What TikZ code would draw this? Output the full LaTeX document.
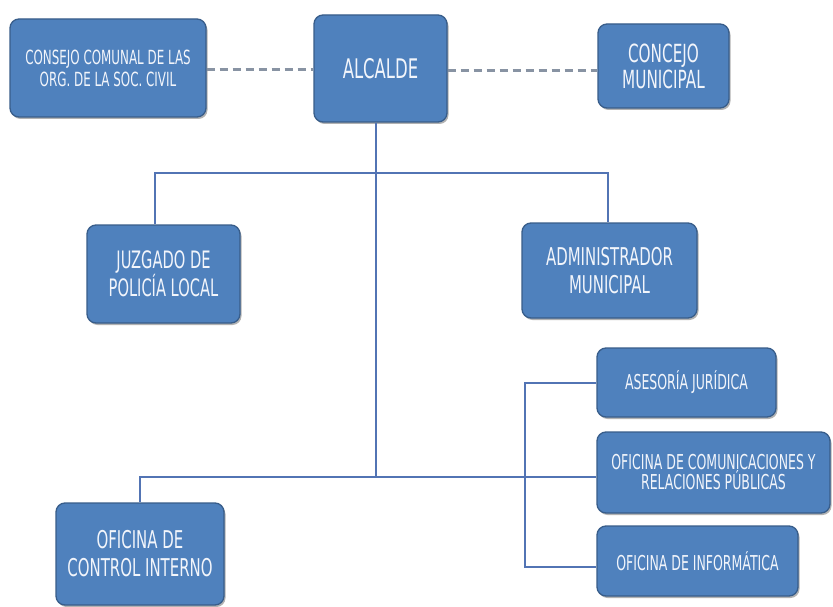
\documentclass[tikz,border=0pt]{standalone}
\usepackage{fontspec}
\setmainfont{DejaVu Sans}[FakeStretch=0.61]
\usetikzlibrary{shadows}
\definecolor{boxfill}{HTML}{4F81BD}
\definecolor{boxline}{HTML}{385D8A}
\definecolor{conn}{HTML}{5274B4}
\definecolor{dashc}{HTML}{8893A3}
\definecolor{txt}{HTML}{F2F5FB}
\begin{document}
\begin{tikzpicture}[x=1pt,y=-1pt,
  box/.style={draw=boxline,line width=1.3pt,fill=boxfill,rounded corners=9pt,
    text=txt,align=center,inner sep=0pt,
    drop shadow={shadow xshift=1.5pt,shadow yshift=-2pt,opacity=0.3,fill=black}},
  connline/.style={draw=conn,line width=1.6pt},
  dashline/.style={draw=dashc,line width=3pt,dash pattern=on 8pt off 5pt}]
\useasboundingbox[fill=white] (0,0) rectangle (833,607);

\node[box,minimum width=196pt,minimum height=98pt,font=\fontsize{19.5}{22}\selectfont] (consejo) at (108,68) {CONSEJO COMUNAL DE LAS\\ORG. DE LA SOC. CIVIL};
\node[box,minimum width=133pt,minimum height=107pt,font=\fontsize{27}{28}\selectfont] (alcalde) at (380.5,68.5) {ALCALDE};
\node[box,minimum width=131pt,minimum height=84pt,font=\fontsize{25}{26}\selectfont] (concejo) at (663.5,66) {CONCEJO\\MUNICIPAL};
\node[box,minimum width=153pt,minimum height=98pt,font=\fontsize{24}{28}\selectfont] (juzgado) at (163.5,274) {JUZGADO DE\\POLICÍA LOCAL};
\node[box,minimum width=175pt,minimum height=95pt,font=\fontsize{24.5}{28.5}\selectfont] (admin) at (609.5,270.5) {ADMINISTRADOR\\MUNICIPAL};
\node[box,minimum width=179pt,minimum height=69pt,font=\fontsize{20.5}{22}\selectfont] (asesoria) at (686.5,382.5) {ASESORÍA JURÍDICA};
\node[box,minimum width=233pt,minimum height=81pt,font=\fontsize{20.5}{20}\selectfont] (comun) at (713.5,472.5) {OFICINA DE COMUNICACIONES Y\\RELACIONES PÚBLICAS};
\node[box,minimum width=201pt,minimum height=70pt,font=\fontsize{20.5}{22}\selectfont] (informatica) at (697.5,561) {OFICINA DE INFORMÁTICA};
\node[box,minimum width=168pt,minimum height=102pt,font=\fontsize{24.5}{28}\selectfont] (control) at (140,554) {OFICINA DE\\CONTROL INTERNO};

\coordinate (d1) at (0,70);
\coordinate (d2) at (0,71);
\coordinate (spine) at (376,477);
\coordinate (j1) at (155,173);
\coordinate (a1) at (608,173);
\coordinate (b1) at (525,383);
\coordinate (b2) at (525,567);

\draw[dashline] (consejo.east |- d1) -- (alcalde.west |- d1);
\draw[dashline] (alcalde.east |- d2) -- (concejo.west |- d2);

\draw[connline] (alcalde.south -| spine) -- (spine);
\draw[connline] (juzgado.north -| j1) -- (j1) -- (a1) -- (admin.north -| a1);
\draw[connline] (control.north) -- (control.north |- spine) -- (comun.west |- spine);
\draw[connline] (asesoria.west |- b1) -- (b1) -- (b2) -- (informatica.west |- b2);
\end{tikzpicture}
\end{document}
